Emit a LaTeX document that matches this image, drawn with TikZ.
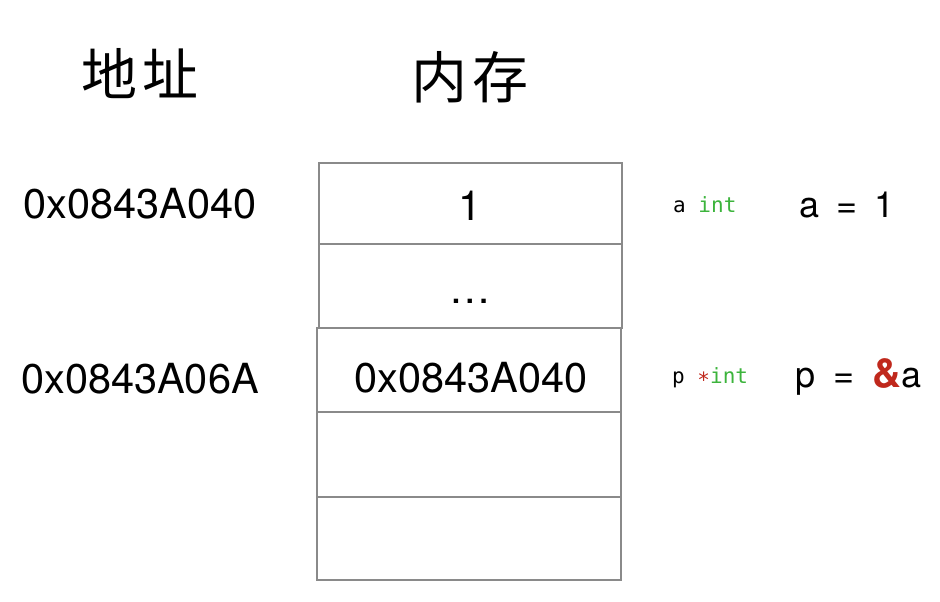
\documentclass[tikz,border=0pt]{standalone}
\usepackage{fontspec}
\setmainfont{TeX Gyre Heros}
\newfontfamily\cjk{Noto Sans CJK SC}
\newfontfamily\monof{DejaVu Sans Mono}
\definecolor{cellgray}{HTML}{8A8A8A}
\definecolor{typegreen}{HTML}{3CB43C}
\definecolor{ptrred}{HTML}{C0281C}
\begin{document}
\begin{tikzpicture}[x=1pt,y=-1pt,
  cell/.style={draw=cellgray,line width=1.2pt,rectangle,inner sep=0pt},
  big/.style={inner sep=0pt,font=\fontsize{41.5}{41.5}\selectfont},
  expr/.style={inner sep=0pt,font=\fontsize{36}{36}\selectfont},
  title/.style={inner sep=0pt,font=\cjk\fontsize{56}{56}\selectfont},
  code/.style={inner sep=0pt,font=\monof\fontsize{21}{21}\selectfont}]
\useasboundingbox[fill=white] (0,0) rectangle (940,602);
% titles
\node[title] (t1) at (140,74) {地\hspace{0.1em}址};
\node[title] (t2) at (470,77) {内\hspace{0.1em}存};
% memory cells
\node[cell,minimum width=303pt,minimum height=81pt] (c1) at (470.5,203.5) {};
\node[cell,minimum width=303pt,minimum height=84pt] (c2) at (470.5,286) {};
\node[cell,minimum width=304pt,minimum height=84pt] (c3) at (469,370) {};
\node[cell,minimum width=304pt,minimum height=85pt] (c4) at (469,454.5) {};
\node[cell,minimum width=304pt,minimum height=83pt] (c5) at (469,538.5) {};
% cell contents
\node[big,anchor=base] (v1) at (470,220) {1};
\node[big,anchor=base] (v2) at (470,303) {\char"2026};
\node[big,anchor=base] (v3) at (471,392) {0x0843A040};
% addresses
\node[big,anchor=base] (a1) at (140,218) {0x0843A040};
\node[big,anchor=base] (a2) at (140,393) {0x0843A06A};
% declarations
\node[code,anchor=base west] (d1) at (673,212) {a \textcolor{typegreen}{int}};
\node[code,anchor=base west] (d2) at (672,383) {p \textcolor{ptrred}{\raisebox{-0.22em}{*}}\textcolor{typegreen}{int}};
% expressions
\node[expr,anchor=base west] (e1) at (799,217) {a\hspace{0.48em}=\hspace{0.48em}1};
\node[expr,anchor=base west] (e2) at (795,387) {p\hspace{0.5em}=\hspace{0.5em}{\fontsize{40}{40}\selectfont\bfseries\color{ptrred}\&}a};
\end{tikzpicture}
\end{document}
